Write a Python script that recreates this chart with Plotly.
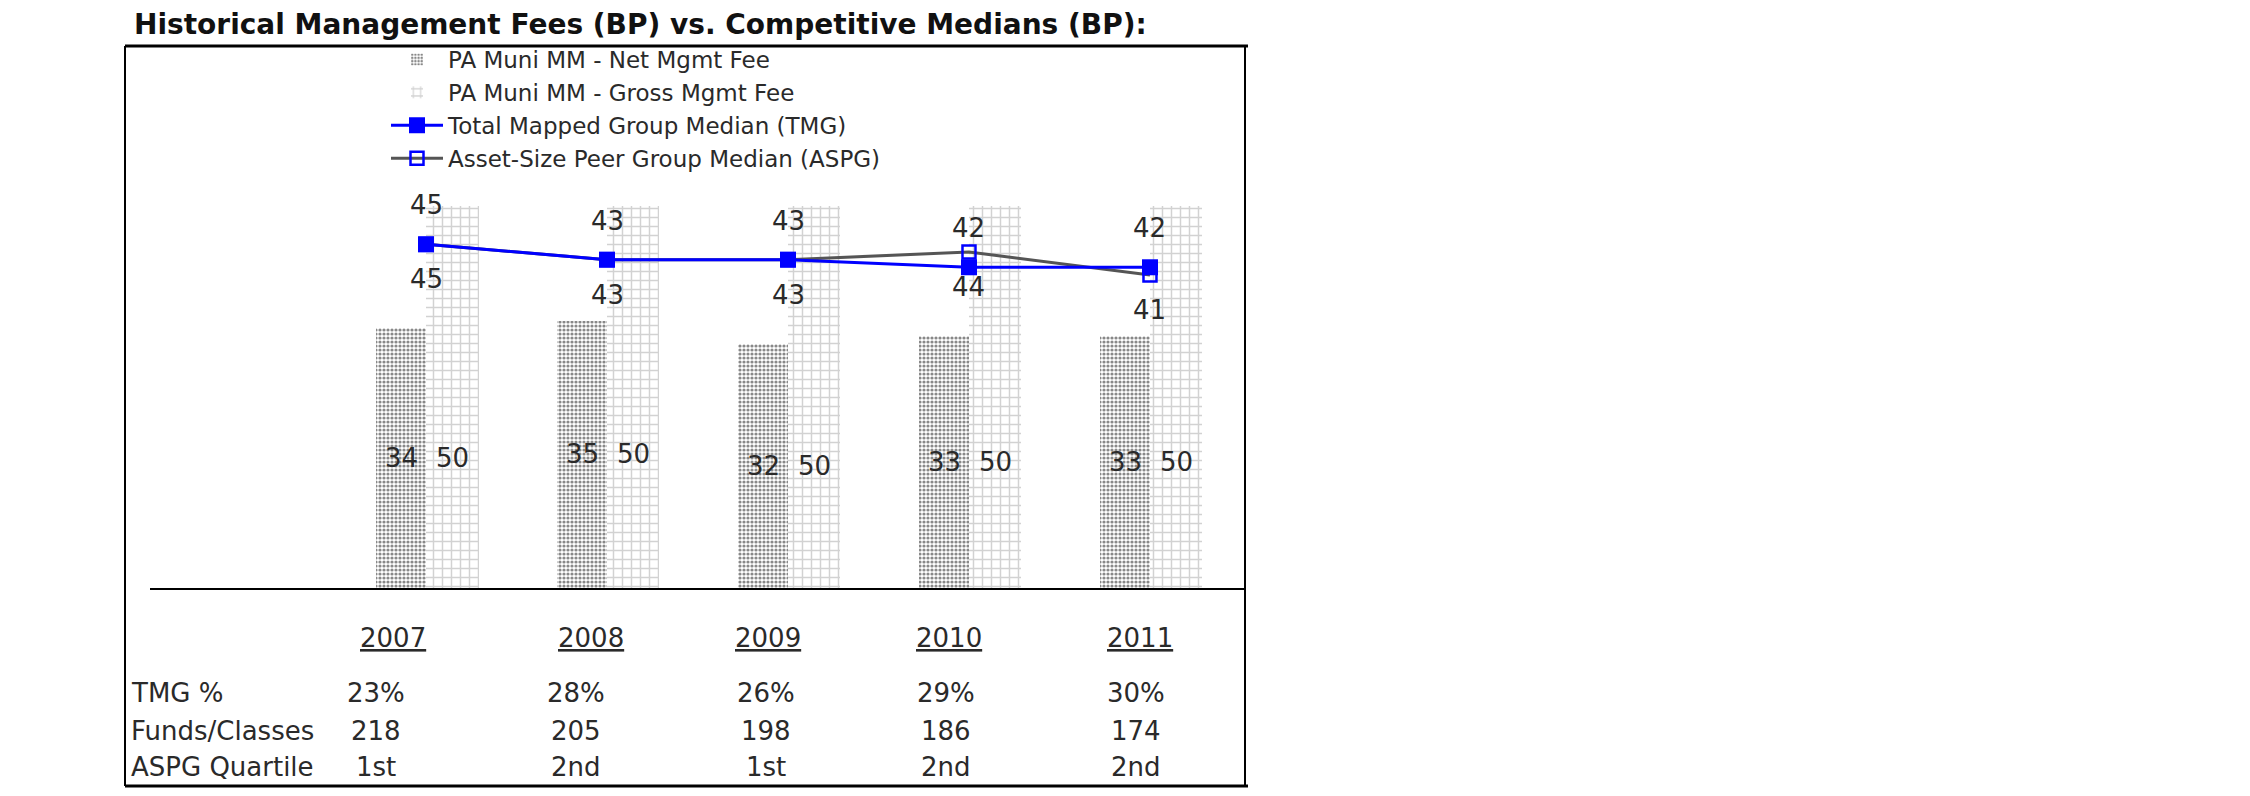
import plotly.graph_objects as go

# ---- data ----
years = ["2007", "2008", "2009", "2010", "2011"]
net_fee = [34, 35, 32, 33, 33]
gross_fee = [50, 50, 50, 50, 50]
tmg_median = [45, 43, 43, 42, 42]
aspg_median = [45, 43, 43, 44, 41]
row_labels = ["TMG %", "Funds/Classes", "ASPG Quartile"]
tmg_pct = ["23%", "28%", "26%", "29%", "30%"]
funds_classes = ["218", "205", "198", "186", "174"]
aspg_quartile = ["1st", "2nd", "1st", "2nd", "2nd"]

W, H = 2250, 796
FONT = "DejaVu Sans"
TXT = "#2a2a2a"

def px(x):
    return x / W

def py(y):
    return 1 - y / H

xs = list(range(len(years)))
NET_W = 0.276
GROSS_W = 0.29

fig = go.Figure()

fig.add_trace(go.Bar(
    x=xs, y=net_fee, name="PA Muni MM - Net Mgmt Fee",
    width=NET_W, offset=-NET_W,
    marker=dict(color="white", line=dict(width=0),
                pattern=dict(shape=".", fgcolor="#111111", bgcolor="white",
                             size=4, solidity=0.5)),
    legendrank=1,
))
fig.add_trace(go.Bar(
    x=xs, y=gross_fee, name="PA Muni MM - Gross Mgmt Fee",
    width=GROSS_W, offset=0,
    marker=dict(color="white", line=dict(width=0),
                pattern=dict(shape="+", fgcolor="#a6a6a6", bgcolor="white",
                             size=9, solidity=0.3)),
    legendrank=2,
))
fig.add_trace(go.Scatter(
    x=xs, y=aspg_median, name="Asset-Size Peer Group Median (ASPG)",
    mode="lines+markers",
    line=dict(color="#555555", width=3),
    marker=dict(symbol="square-open", size=13, color="#0000ff",
                line=dict(width=2.5, color="#0000ff")),
    legendrank=4,
))
fig.add_trace(go.Scatter(
    x=xs, y=tmg_median, name="Total Mapped Group Median (TMG)",
    mode="lines+markers",
    line=dict(color="#0000ff", width=3),
    marker=dict(symbol="square", size=16, color="#0000ff"),
    legendrank=3,
))

ann = []
# bar value labels and line labels
for i in xs:
    ann.append(dict(x=i - NET_W / 2, y=net_fee[i] / 2, xref="x", yref="y",
                    text=str(net_fee[i]), showarrow=False,
                    font=dict(family=FONT, size=26, color=TXT)))
    ann.append(dict(x=i + GROSS_W / 2, y=net_fee[i] / 2, xref="x", yref="y",
                    text=str(gross_fee[i]), showarrow=False,
                    font=dict(family=FONT, size=26, color=TXT)))
    ann.append(dict(x=i, y=tmg_median[i], xref="x", yref="y", yshift=39,
                    text=str(tmg_median[i]), showarrow=False,
                    font=dict(family=FONT, size=26, color=TXT)))
    ann.append(dict(x=i, y=aspg_median[i], xref="x", yref="y", yshift=-35,
                    text=str(aspg_median[i]), showarrow=False,
                    font=dict(family=FONT, size=26, color=TXT)))

# title
ann.append(dict(x=px(124), y=py(17), xref="paper", yref="paper",
                xanchor="left", yanchor="middle", showarrow=False,
                text="<b>Historical Management Fees (BP) vs. Competitive Medians (BP):</b>",
                font=dict(family=FONT, size=28, color="#111111")))

# table below chart
year_x = [385, 583, 760, 941, 1132]
val_x = [368, 568, 758, 938, 1128]
for j, yr in enumerate(years):
    ann.append(dict(x=px(year_x[j]), y=py(630), xref="paper", yref="paper",
                    xanchor="center", yanchor="middle", showarrow=False,
                    text="<u>" + yr + "</u>",
                    font=dict(family=FONT, size=26, color=TXT)))
rows_y = [685, 723, 759]
rows = [tmg_pct, funds_classes, aspg_quartile]
for r, lab in enumerate(row_labels):
    ann.append(dict(x=px(121), y=py(rows_y[r]), xref="paper", yref="paper",
                    xanchor="left", yanchor="middle", showarrow=False,
                    text=lab, font=dict(family=FONT, size=26, color=TXT)))
    for j in range(len(years)):
        ann.append(dict(x=px(val_x[j]), y=py(rows_y[r]), xref="paper", yref="paper",
                        xanchor="center", yanchor="middle", showarrow=False,
                        text=rows[r][j], font=dict(family=FONT, size=26, color=TXT)))

shapes = [
    dict(type="line", xref="paper", yref="paper", x0=px(117), x1=px(1240),
         y0=py(38), y1=py(38), line=dict(color="black", width=3)),
    dict(type="line", xref="paper", yref="paper", x0=px(117), x1=px(1240),
         y0=py(778), y1=py(778), line=dict(color="black", width=3)),
    dict(type="line", xref="paper", yref="paper", x0=px(117), x1=px(117),
         y0=py(38), y1=py(778), line=dict(color="black", width=2)),
    dict(type="line", xref="paper", yref="paper", x0=px(1237), x1=px(1237),
         y0=py(38), y1=py(778), line=dict(color="black", width=2)),
]

fig.update_layout(
    width=W, height=H,
    margin=dict(l=0, r=0, t=0, b=0),
    paper_bgcolor="white", plot_bgcolor="white",
    barmode="overlay", bargap=0,
    showlegend=True,
    legend=dict(x=px(378), y=py(30), xanchor="left", yanchor="top",
                font=dict(family=FONT, size=23, color=TXT),
                bgcolor="rgba(0,0,0,0)", traceorder="normal",
                itemwidth=52, tracegroupgap=0),
    xaxis=dict(domain=[px(142), px(1237)], range=[-1.525, 4.525],
               showticklabels=False, showgrid=False, zeroline=False,
               showline=True, linecolor="black", linewidth=2, ticks=""),
    yaxis=dict(domain=[py(580), py(160)], range=[0, 55],
               showticklabels=False, showgrid=False, zeroline=False,
               showline=False, ticks=""),
    annotations=ann,
    shapes=shapes,
)

fig.write_html("out.html")
